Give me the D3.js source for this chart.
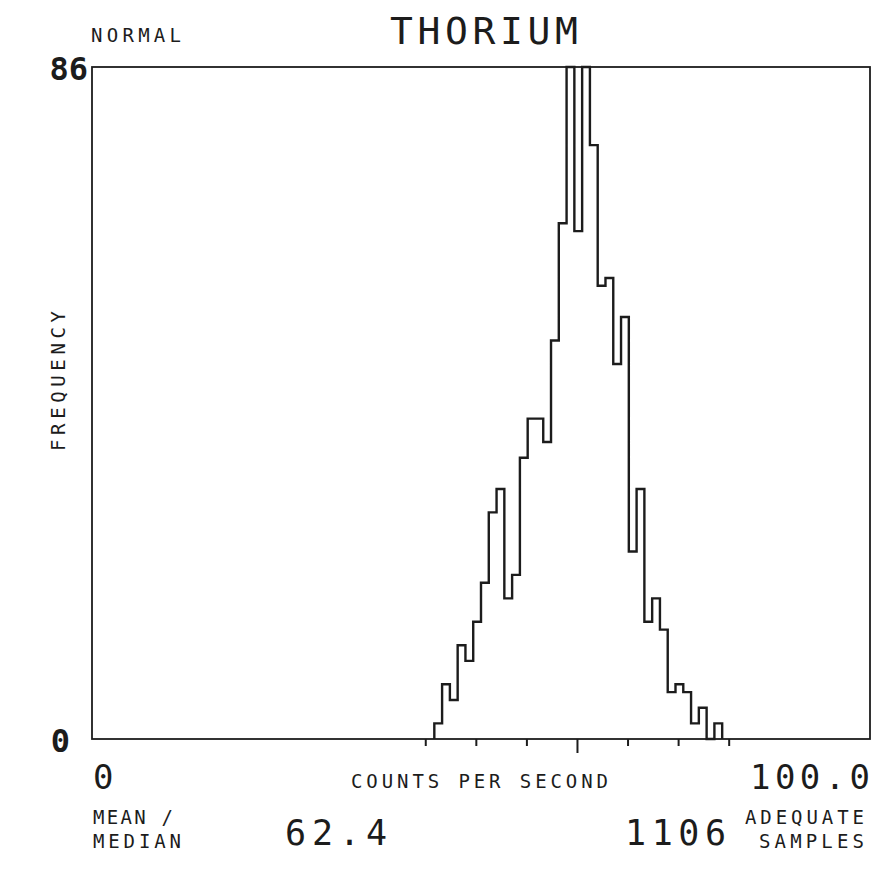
<!DOCTYPE html>
<html>
<head>
<meta charset="utf-8">
<script src="https://cdn.jsdelivr.net/npm/d3@7"></script>
<style>
  html, body { margin: 0; padding: 0; background: #ffffff; }
  svg { display: block; }
  text { fill: #1c1c1c; font-family: "DejaVu Sans Mono", "Liberation Mono", monospace; }
</style>
</head>
<body>
<svg id="chart" width="893" height="875"></svg>
<script>
// ---- data ----
const title = "THORIUM";
const distribution = "NORMAL";
const yLabel = "FREQUENCY";
const xLabel = "COUNTS PER SECOND";
const xDomain = [0, 100];
const yDomain = [0, 86];
const xTickLabels = ["0", "100.0"];
const yTickLabels = ["0", "86"];
// histogram bins (lower edge, counts per second; width 1)
const binStarts = [44,45,46,47,48,49,50,51,52,53,54,55,56,57,58,59,60,61,62,
                   63,64,65,66,67,68,69,70,71,72,73,74,75,76,77,78,79,80];
const binCounts = [2,7,5,12,10,15,20,29,32,18,21,36,41,41,38,51,66,86,65,
                   86,76,58,59,48,54,24,32,15,18,14,6,7,6,2,4,0,2];
const binWidth = 1;
const meanValue = 62.4;
const sdValue = 6.5;
const sigmaSteps = [-3, -2, -1, 0, 1, 2, 3];
const meanLabel = "62.4";
const samplesLabel = "1106";

// ---- drawing ----
const svg = d3.select("#chart");
const ink = "#1c1c1c";
const x = d3.scaleLinear().domain(xDomain).range([92, 870]);
const y = d3.scaleLinear().domain(yDomain).range([739, 67]);

// frame
svg.append("rect")
  .attr("x", x(xDomain[0])).attr("y", y(yDomain[1]))
  .attr("width", x(xDomain[1]) - x(xDomain[0]))
  .attr("height", y(yDomain[0]) - y(yDomain[1]))
  .attr("fill", "none").attr("stroke", ink).attr("stroke-width", 1.8);

// sigma ticks below the axis
svg.append("g").selectAll("line")
  .data(sigmaSteps)
  .join("line")
  .attr("x1", d => x(meanValue + d * sdValue))
  .attr("x2", d => x(meanValue + d * sdValue))
  .attr("y1", y(0))
  .attr("y2", d => y(0) + (d === 0 ? 14 : 7))
  .attr("stroke", ink).attr("stroke-width", 2);

// histogram step outline
const pts = [[binStarts[0], 0]]
  .concat(binStarts.map((b, i) => [b, binCounts[i]]))
  .concat([[binStarts[binStarts.length - 1] + binWidth, 0]]);
const line = d3.line()
  .x(d => x(d[0]))
  .y(d => y(d[1]))
  .curve(d3.curveStepAfter);
svg.append("path")
  .attr("d", line(pts))
  .attr("fill", "none")
  .attr("stroke", ink)
  .attr("stroke-width", 2.4)
  .attr("stroke-linejoin", "miter");

// texts
function txt(s, px, py, size, len, anchor, weight) {
  const t = svg.append("text")
    .attr("x", px).attr("y", py)
    .attr("font-size", size)
    .attr("text-anchor", anchor || "start")
    .attr("font-weight", weight || "normal")
    .text(s);
  if (len) t.attr("textLength", len).attr("lengthAdjust", "spacing");
  return t;
}
txt(distribution, 91, 42, 19, 90);
txt(title, 390, 44, 38, 188);
txt(yTickLabels[1], 88, 80, 32, null, "end", "bold");
txt(yTickLabels[0], 70, 752, 32, null, "end", "bold");
txt(xTickLabels[0], 93, 789, 34);
txt(xTickLabels[1], 750, 789, 34, 120);
txt(xLabel, 351, 788, 19, 257);
txt("MEAN /", 93, 824, 19, 80);
txt("MEDIAN", 93, 848, 19, 88);
txt(meanLabel, 285, 845, 35, 102);
txt(samplesLabel, 625, 845, 35, 101);
txt("ADEQUATE", 745, 824, 19, 119);
txt("SAMPLES", 759, 848, 19, 105);
svg.append("text")
  .attr("transform", "translate(65,381) rotate(-90)")
  .attr("text-anchor", "middle")
  .attr("font-size", 19)
  .attr("textLength", 140).attr("lengthAdjust", "spacing")
  .text(yLabel);
</script>
</body>
</html>
